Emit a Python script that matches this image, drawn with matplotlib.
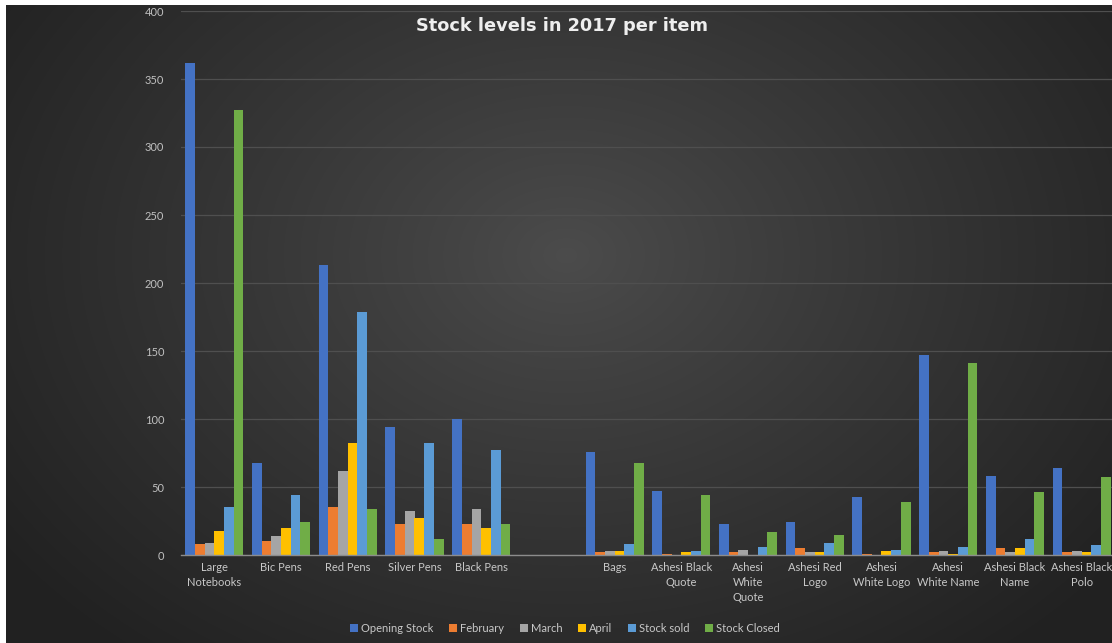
import numpy as np
import matplotlib
matplotlib.use("Agg")
import matplotlib.pyplot as plt

categories = ["Large\nNotebooks", "Bic Pens", "Red Pens", "Silver Pens", "Black Pens", "",
              "Bags", "Ashesi Black\nQuote", "Ashesi\nWhite\nQuote", "Ashesi Red\nLogo",
              "Ashesi\nWhite Logo", "Ashesi\nWhite Name", "Ashesi Black\nName", "Ashesi Black\nPolo"]
opening_stock = [362, 68, 213, 94, 100, 0, 76, 47, 23, 24, 43, 147, 58, 64]
february      = [8, 10, 35, 23, 23, 0, 2, 1, 2, 5, 1, 2, 5, 2]
march         = [9, 14, 62, 32, 34, 0, 3, 0, 4, 2, 0, 3, 2, 3]
april         = [18, 20, 82, 27, 20, 0, 3, 2, 0, 2, 3, 1, 5, 2]
stock_sold    = [35, 44, 179, 82, 77, 0, 8, 3, 6, 9, 4, 6, 12, 7]
stock_closed  = [327, 24, 34, 12, 23, 0, 68, 44, 17, 15, 39, 141, 46, 57]

series_names = ["Opening Stock", "February", "March", "April", "Stock sold", "Stock Closed"]
series = [opening_stock, february, march, april, stock_sold, stock_closed]
colors = ["#4472C4", "#ED7D31", "#A5A5A5", "#FFC000", "#5B9BD5", "#70AD47"]
yticks = [0, 50, 100, 150, 200, 250, 300, 350, 400]

W, H = 1112, 643
fig = plt.figure(figsize=(W / 100, H / 100), dpi=100)
fig.patch.set_facecolor("white")

# background radial gradient
bg = fig.add_axes([6 / W, 0, 1 - 6 / W, 1 - 5 / H])
yy, xx = np.mgrid[0:638, 0:1106]
cx, cy = 560, 250
d = np.sqrt(((xx - cx) / 700.0) ** 2 + ((yy - cy) / 520.0) ** 2)
d = np.clip(d, 0, 1)
c0, c1 = 0x4c / 255, 0x21 / 255
val = c0 + (c1 - c0) * d ** 0.9
img = np.dstack([val, val, val])
bg.imshow(img, aspect="auto", extent=[0, 1, 0, 1], interpolation="bilinear")
bg.set_axis_off()

ax = fig.add_axes([181 / W, 88 / H, 934 / W, 544 / H])
ax.patch.set_alpha(0)
x = np.arange(len(categories))
w = 0.145
for i, (name, vals, col) in enumerate(zip(series_names, series, colors)):
    ax.bar(x + (i - 2.5) * w, vals, width=w, color=col, label=name, zorder=3)

ax.set_xlim(-0.5, len(categories) - 0.5)
ax.set_ylim(0, 400)
ax.set_yticks(yticks)
ax.set_xticks(x)
ax.set_xticklabels(categories, fontsize=8, color="#c8c8c8", family="Lato", linespacing=1.45)
ax.tick_params(axis="x", length=0, pad=5)
ax.tick_params(axis="y", length=0, pad=12, labelsize=8, labelcolor="#c0c0c0")
for lab in ax.get_yticklabels():
    lab.set_family("Lato")
ax.grid(axis="y", color="#4f4f4f", linewidth=0.9, zorder=0)
for s in ["top", "right", "left"]:
    ax.spines[s].set_visible(False)
ax.spines["bottom"].set_color("#8c8c8c")
ax.spines["bottom"].set_linewidth(1.0)
ax.spines["bottom"].set_zorder(4)

fig.text(562 / W, 1 - 26 / H, "Stock levels in 2017 per item", ha="center", va="center",
         fontsize=12.8, fontweight="bold", color="#eeeeee", family="DejaVu Sans")

leg = fig.legend(loc="center", bbox_to_anchor=(565 / W, 1 - 628 / H), ncol=6, frameon=False,
                 fontsize=8, handlelength=0.7, handleheight=0.7, handletextpad=0.3,
                 columnspacing=1.4, prop={"family": "Lato", "size": 8})
for t in leg.get_texts():
    t.set_color("#c8c8c8")

fig.savefig("out.png", dpi=100, facecolor=fig.get_facecolor())
